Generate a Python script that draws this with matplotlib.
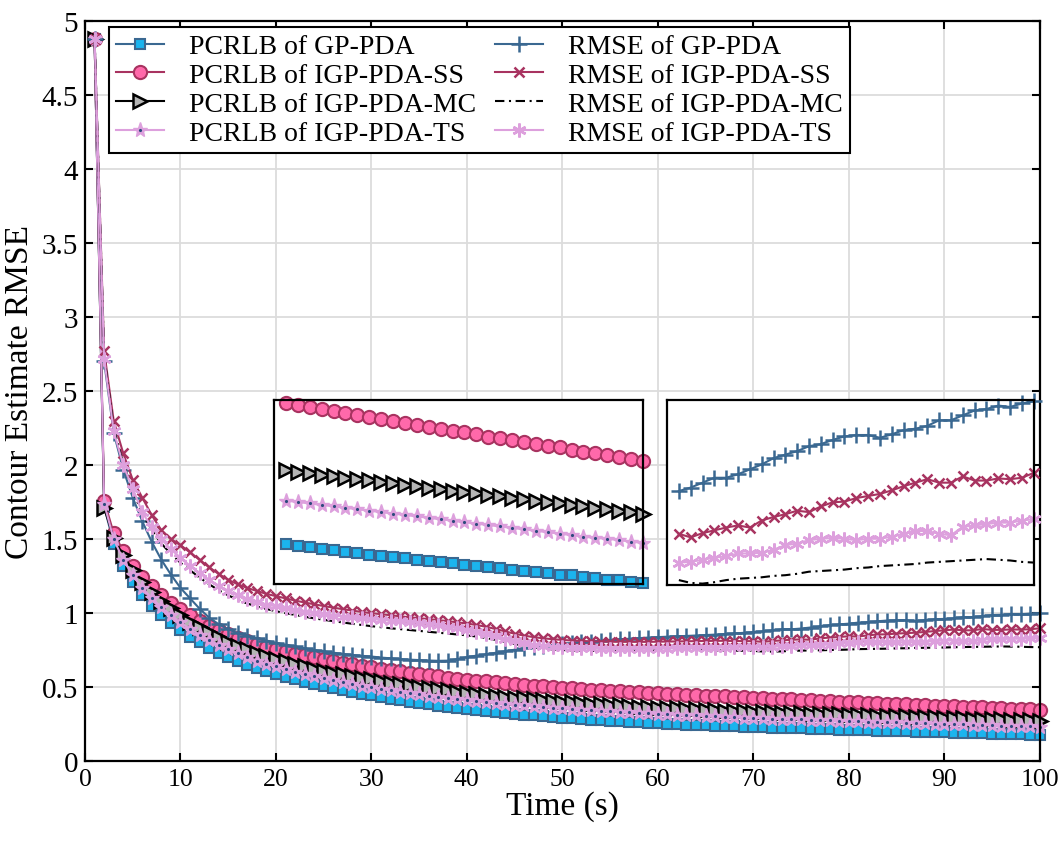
import matplotlib
matplotlib.use("Agg")
import matplotlib.pyplot as plt
import numpy as np
from matplotlib.legend_handler import HandlerTuple

plt.rcParams['font.family'] = ['Liberation Serif', 'DejaVu Serif']

t = np.arange(1, 101)

pcrlb_gp = [4.88, 1.72, 1.47, 1.32, 1.21, 1.12, 1.05, 0.99, 0.935, 0.885,
            0.842, 0.803, 0.767, 0.734, 0.704, 0.676, 0.651, 0.628, 0.607, 0.588,
            0.570, 0.553, 0.537, 0.522, 0.508, 0.494, 0.481, 0.468, 0.456, 0.444,
            0.433, 0.422, 0.412, 0.402, 0.393, 0.384, 0.375, 0.367, 0.359, 0.352,
            0.345, 0.338, 0.332, 0.326, 0.320, 0.314, 0.309, 0.304, 0.299, 0.294,
            0.289, 0.285, 0.281, 0.277, 0.273, 0.269, 0.265, 0.262, 0.259, 0.256,
            0.253, 0.250, 0.247, 0.244, 0.242, 0.239, 0.237, 0.235, 0.233, 0.231,
            0.229, 0.227, 0.225, 0.223, 0.221, 0.219, 0.217, 0.215, 0.214, 0.212,
            0.210, 0.208, 0.207, 0.205, 0.203, 0.201, 0.200, 0.198, 0.196, 0.194,
            0.193, 0.191, 0.189, 0.188, 0.186, 0.184, 0.182, 0.181, 0.179, 0.177]

pcrlb_ss = [4.88, 1.76, 1.54, 1.42, 1.32, 1.245, 1.18, 1.12, 1.07, 1.025,
            0.985, 0.948, 0.915, 0.885, 0.858, 0.833, 0.811, 0.791, 0.773, 0.756,
            0.741, 0.727, 0.714, 0.701, 0.689, 0.677, 0.666, 0.655, 0.645, 0.635,
            0.625, 0.615, 0.606, 0.597, 0.589, 0.581, 0.573, 0.565, 0.558, 0.551,
            0.545, 0.539, 0.533, 0.527, 0.521, 0.516, 0.511, 0.506, 0.501, 0.496,
            0.492, 0.488, 0.484, 0.480, 0.476, 0.472, 0.468, 0.465, 0.461, 0.458,
            0.455, 0.452, 0.449, 0.446, 0.443, 0.440, 0.437, 0.434, 0.431, 0.428,
            0.425, 0.422, 0.419, 0.417, 0.414, 0.411, 0.408, 0.406, 0.403, 0.400,
            0.397, 0.395, 0.392, 0.389, 0.387, 0.384, 0.381, 0.379, 0.376, 0.373,
            0.371, 0.368, 0.366, 0.363, 0.360, 0.358, 0.355, 0.353, 0.350, 0.347]

pcrlb_mc = [4.88, 1.71, 1.51, 1.39, 1.29, 1.21, 1.145, 1.085, 1.032, 0.985,
            0.943, 0.905, 0.870, 0.838, 0.808, 0.781, 0.756, 0.733, 0.712, 0.692,
            0.674, 0.657, 0.641, 0.626, 0.612, 0.599, 0.586, 0.574, 0.563, 0.552,
            0.541, 0.531, 0.521, 0.512, 0.503, 0.494, 0.486, 0.478, 0.470, 0.463,
            0.456, 0.449, 0.442, 0.436, 0.430, 0.424, 0.418, 0.413, 0.408, 0.403,
            0.398, 0.393, 0.389, 0.385, 0.381, 0.377, 0.373, 0.369, 0.365, 0.362,
            0.359, 0.356, 0.353, 0.350, 0.347, 0.344, 0.341, 0.339, 0.336, 0.334,
            0.332, 0.330, 0.328, 0.326, 0.324, 0.322, 0.320, 0.318, 0.316, 0.314,
            0.312, 0.310, 0.308, 0.306, 0.304, 0.302, 0.300, 0.298, 0.296, 0.294,
            0.292, 0.290, 0.288, 0.286, 0.284, 0.282, 0.280, 0.278, 0.276, 0.274]

pcrlb_ts = [4.88, 1.74, 1.50, 1.36, 1.255, 1.17, 1.10, 1.04, 0.985, 0.937,
            0.894, 0.855, 0.819, 0.786, 0.756, 0.728, 0.703, 0.680, 0.659, 0.640,
            0.622, 0.605, 0.589, 0.574, 0.560, 0.547, 0.534, 0.522, 0.511, 0.500,
            0.489, 0.479, 0.469, 0.460, 0.451, 0.443, 0.435, 0.427, 0.420, 0.413,
            0.406, 0.400, 0.394, 0.388, 0.382, 0.377, 0.372, 0.367, 0.362, 0.357,
            0.353, 0.349, 0.345, 0.341, 0.337, 0.333, 0.330, 0.327, 0.324, 0.321,
            0.318, 0.315, 0.312, 0.309, 0.306, 0.303, 0.301, 0.298, 0.295, 0.292,
            0.290, 0.288, 0.286, 0.284, 0.282, 0.280, 0.278, 0.276, 0.274, 0.272,
            0.270, 0.268, 0.266, 0.264, 0.262, 0.260, 0.258, 0.256, 0.254, 0.252,
            0.250, 0.248, 0.246, 0.244, 0.242, 0.240, 0.239, 0.237, 0.235, 0.233]

rmse_gp = [4.88, 2.70, 2.22, 1.97, 1.78, 1.62, 1.48, 1.36, 1.26, 1.17,
           1.10, 1.03, 0.97, 0.925, 0.89, 0.865, 0.845, 0.83, 0.815, 0.80,
           0.787, 0.775, 0.763, 0.752, 0.742, 0.733, 0.725, 0.718, 0.712, 0.707,
           0.700, 0.695, 0.690, 0.686, 0.683, 0.680, 0.678, 0.679, 0.690, 0.703,
           0.713, 0.722, 0.732, 0.743, 0.753, 0.762, 0.770, 0.777, 0.784, 0.790,
           0.796, 0.802, 0.808, 0.813, 0.818, 0.823, 0.827, 0.831, 0.835, 0.838,
           0.841, 0.844, 0.846, 0.849, 0.852, 0.855, 0.859, 0.863, 0.867, 0.872,
           0.877, 0.884, 0.891, 0.891, 0.896, 0.903, 0.910, 0.919, 0.924, 0.929,
           0.936, 0.939, 0.945, 0.950, 0.952, 0.952, 0.948, 0.953, 0.959, 0.961,
           0.965, 0.973, 0.973, 0.980, 0.987, 0.989, 0.994, 0.992, 0.997, 1.000]

rmse_ss = [4.88, 2.77, 2.30, 2.08, 1.90, 1.78, 1.66, 1.56, 1.50, 1.46,
           1.41, 1.36, 1.31, 1.265, 1.225, 1.195, 1.17, 1.15, 1.13, 1.115,
           1.10, 1.085, 1.072, 1.06, 1.048, 1.037, 1.027, 1.017, 1.008, 1.00,
           0.993, 0.986, 0.979, 0.972, 0.966, 0.960, 0.953, 0.946, 0.938, 0.930,
           0.920, 0.908, 0.893, 0.877, 0.861, 0.848, 0.838, 0.830, 0.824, 0.819,
           0.815, 0.812, 0.810, 0.808, 0.807, 0.806, 0.806, 0.806, 0.806, 0.807,
           0.808, 0.809, 0.810, 0.811, 0.812, 0.813, 0.813, 0.812, 0.811, 0.811,
           0.806, 0.812, 0.816, 0.820, 0.823, 0.820, 0.830, 0.835, 0.839, 0.844,
           0.842, 0.850, 0.856, 0.857, 0.862, 0.865, 0.868, 0.873, 0.879, 0.884,
           0.889, 0.884, 0.884, 0.893, 0.887, 0.887, 0.890, 0.889, 0.891, 0.898]

rmse_mc = [4.88, 2.74, 2.25, 2.01, 1.83, 1.67, 1.56, 1.47, 1.40, 1.34,
           1.29, 1.24, 1.195, 1.155, 1.12, 1.09, 1.065, 1.045, 1.028, 1.013,
           1.00, 0.988, 0.976, 0.965, 0.955, 0.946, 0.937, 0.928, 0.920, 0.912,
           0.905, 0.898, 0.892, 0.886, 0.880, 0.874, 0.868, 0.862, 0.856, 0.850,
           0.842, 0.832, 0.820, 0.806, 0.792, 0.779, 0.769, 0.761, 0.755, 0.751,
           0.748, 0.746, 0.745, 0.745, 0.745, 0.746, 0.747, 0.748, 0.749, 0.750,
           0.751, 0.751, 0.751, 0.751, 0.750, 0.749, 0.748, 0.747, 0.746, 0.745,
           0.741, 0.740, 0.742, 0.745, 0.747, 0.748, 0.749, 0.751, 0.752, 0.754,
           0.757, 0.758, 0.759, 0.760, 0.762, 0.763, 0.765, 0.766, 0.767, 0.768,
           0.770, 0.771, 0.772, 0.773, 0.774, 0.775, 0.774, 0.773, 0.771, 0.770]

rmse_ts = [4.88, 2.72, 2.23, 2.00, 1.84, 1.68, 1.58, 1.50, 1.43, 1.375,
           1.32, 1.27, 1.225, 1.185, 1.15, 1.12, 1.095, 1.075, 1.058, 1.045,
           1.033, 1.022, 1.011, 1.001, 0.992, 0.984, 0.977, 0.971, 0.965, 0.960,
           0.955, 0.950, 0.945, 0.939, 0.933, 0.926, 0.918, 0.909, 0.899, 0.888,
           0.875, 0.860, 0.843, 0.826, 0.810, 0.797, 0.787, 0.779, 0.773, 0.769,
           0.766, 0.764, 0.762, 0.761, 0.760, 0.759, 0.759, 0.759, 0.759, 0.760,
           0.761, 0.762, 0.763, 0.764, 0.765, 0.766, 0.767, 0.768, 0.769, 0.770,
           0.771, 0.774, 0.777, 0.779, 0.783, 0.783, 0.784, 0.788, 0.795, 0.797,
           0.802, 0.804, 0.805, 0.804, 0.802, 0.804, 0.804, 0.807, 0.811, 0.815,
           0.815, 0.811, 0.809, 0.821, 0.823, 0.825, 0.827, 0.827, 0.830, 0.832]

c_gp = '#3A6891'
c_gp_face = '#1BB4EE'
c_ss = '#A83360'
c_ss_face = '#FF69AA'
c_mc_face = '#B5B5B5'
c_ts = '#DDA0DD'
c_dot = '#2C4A7C'
asterisk = (6, 2, 0)


def draw_pcrlb(ax, x, sl):
    h = {}
    h['gp'], = ax.plot(x, np.array(pcrlb_gp)[sl], '-', color=c_gp, lw=1.5, marker='s',
                       ms=6.5, mfc=c_gp_face, mec=c_gp, mew=1.5, clip_on=False)
    h['ss'], = ax.plot(x, np.array(pcrlb_ss)[sl], '-', color=c_ss, lw=1.5, marker='o',
                       ms=9.5, mfc=c_ss_face, mec=c_ss, mew=1.5, clip_on=False)
    h['mc'], = ax.plot(x, np.array(pcrlb_mc)[sl], '-', color='black', lw=1.5, marker='>',
                       ms=9.5, mfc=c_mc_face, mec='black', mew=1.8, clip_on=False)
    h['ts'], = ax.plot(x, np.array(pcrlb_ts)[sl], '-', color=c_ts, lw=1.5, marker='*',
                       ms=11, mfc=c_ts, mec=c_ts, mew=1.0, clip_on=False)
    h['ts_dot'], = ax.plot(x, np.array(pcrlb_ts)[sl], ls='none', marker='.',
                           ms=2.5, color=c_dot, clip_on=False)
    return h


def draw_rmse(ax, x, sl):
    h = {}
    h['gp'], = ax.plot(x, np.array(rmse_gp)[sl], '-', color=c_gp, lw=1.5, marker='+',
                       ms=11, mew=1.8, clip_on=False)
    h['ss'], = ax.plot(x, np.array(rmse_ss)[sl], '-', color=c_ss, lw=1.5, marker='x',
                       ms=7.5, mew=1.8, clip_on=False)
    h['mc'], = ax.plot(x, np.array(rmse_mc)[sl], color='black', lw=1.5,
                       dashes=(4.5, 2.2, 1.0, 2.2), clip_on=False)
    h['ts'], = ax.plot(x, np.array(rmse_ts)[sl], '-', color=c_ts, lw=1.5, marker=asterisk,
                       ms=10, mew=1.8, clip_on=False)
    return h


fig = plt.figure(figsize=(10.63, 8.45), dpi=100)
ax = fig.add_axes([0.080, 0.098, 0.898, 0.876])

hp = draw_pcrlb(ax, t, slice(None))
hr = draw_rmse(ax, t, slice(None))

ax.set_xlim(0, 100)
ax.set_ylim(0, 5)
ax.set_xticks(np.arange(0, 101, 10))
ax.set_yticks(np.arange(0, 5.01, 0.5))
ax.set_yticklabels(['0', '0.5', '1', '1.5', '2', '2.5', '3', '3.5', '4', '4.5', '5'])
ax.grid(True, color='#DCDCDC', lw=1.3)
ax.set_axisbelow(True)
ax.tick_params(direction='in', top=True, right=True, length=5.5, width=1.5, pad=5)
ax.tick_params(axis='x', labelsize=18.5)
ax.tick_params(axis='y', labelsize=21)
for s in ax.spines.values():
    s.set_linewidth(1.6)
ax.set_xlabel('Time (s)', fontsize=24, labelpad=0)
ax.set_ylabel('Contour Estimate RMSE', fontsize=24, labelpad=5)

handles = [hp['gp'], hp['ss'], hp['mc'], (hp['ts'], hp['ts_dot']),
           hr['gp'], hr['ss'], hr['mc'], hr['ts']]
labels = ['PCRLB of GP-PDA', 'PCRLB of IGP-PDA-SS', 'PCRLB of IGP-PDA-MC', 'PCRLB of IGP-PDA-TS',
          'RMSE of GP-PDA', 'RMSE of IGP-PDA-SS', 'RMSE of IGP-PDA-MC', 'RMSE of IGP-PDA-TS']
leg = ax.legend(handles, labels, ncol=2, loc='upper left', bbox_to_anchor=(0.025, 0.992),
                borderaxespad=0, fontsize=20, fancybox=False, framealpha=1,
                edgecolor='black', handlelength=1.75, handletextpad=0.9,
                columnspacing=0.65, labelspacing=0.12, borderpad=0.25,
                handler_map={tuple: HandlerTuple(ndivide=1)})
leg.get_frame().set_linewidth(1.5)
leg.set_zorder(10)

# zoomed views of t = 70..100
sl = slice(69, 100)
x_in = t[sl]

ax1 = fig.add_axes([0.2578, 0.3077, 0.347, 0.2178])
draw_pcrlb(ax1, x_in, sl)
ax1.set_xlim(69, 100)
ax1.set_ylim(0.176, 0.432)

ax2 = fig.add_axes([0.6275, 0.3065, 0.345, 0.219])
draw_rmse(ax2, x_in, sl)
ax2.set_xlim(69, 100)
ax2.set_ylim(0.738, 1.002)

for a in (ax1, ax2):
    a.set_xticks([])
    a.set_yticks([])
    a.set_facecolor('white')
    for s in a.spines.values():
        s.set_linewidth(1.6)

fig.savefig('out.png', dpi=100)
